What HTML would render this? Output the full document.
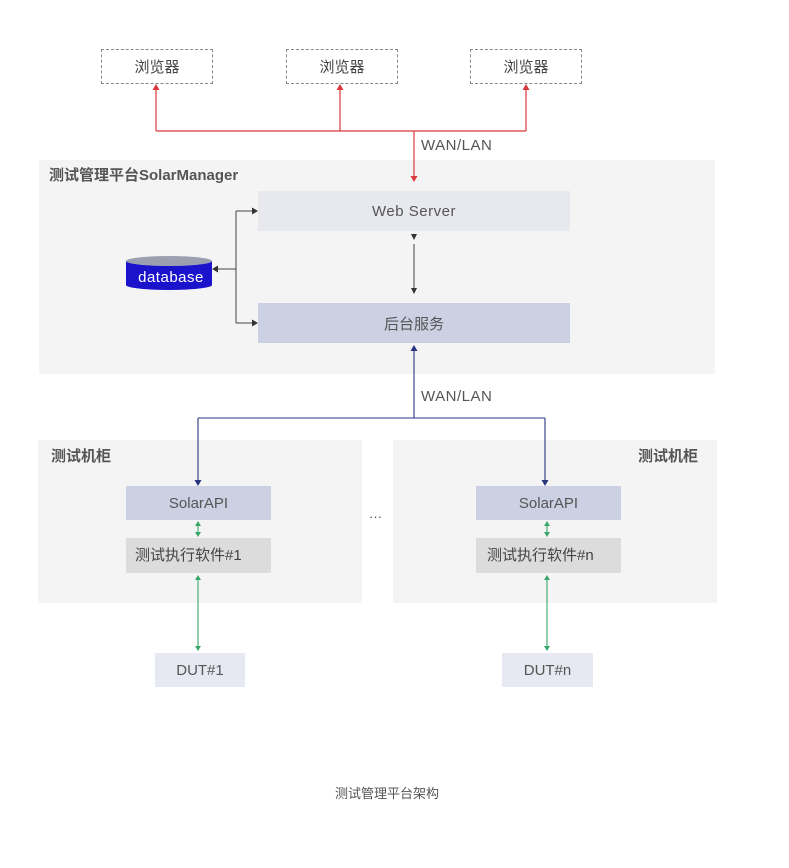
<!DOCTYPE html>
<html><head><meta charset="utf-8"><style>
body{margin:0;width:789px;height:868px;background:#fff;position:relative;font-family:"Liberation Sans","Noto Sans CJK SC",sans-serif;color:#555;overflow:hidden}
.a{position:absolute;box-sizing:border-box}
.c{display:flex;align-items:center;justify-content:center}
.br{border:1px dashed #888;font-size:15px;color:#444}
</style></head><body>
<div class="a c br" style="left:101px;top:49px;width:112px;height:35px">浏览器</div>
<div class="a c br" style="left:286px;top:49px;width:112px;height:35px">浏览器</div>
<div class="a c br" style="left:470px;top:49px;width:112px;height:35px">浏览器</div>

<div class="a" style="left:39px;top:160px;width:676px;height:214px;background:#f4f4f4"></div>
<div class="a" style="left:49px;top:164px;font-size:15px;font-weight:bold;color:#555">测试管理平台SolarManager</div>
<div class="a c" style="left:258px;top:191px;width:312px;height:40px;background:#e8e9ee;font-size:15px;letter-spacing:0.5px">Web Server</div>
<div class="a c" style="left:258px;top:303px;width:312px;height:40px;background:#cbd0e2;font-size:15px">后台服务</div>

<div class="a" style="left:38px;top:440px;width:324px;height:163px;background:#f4f4f4"></div>
<div class="a" style="left:393px;top:440px;width:324px;height:163px;background:#f4f4f4"></div>
<div class="a" style="left:51px;top:445px;font-size:15px;font-weight:bold">测试机柜</div>
<div class="a" style="left:638px;top:445px;font-size:15px;font-weight:bold">测试机柜</div>

<div class="a c" style="left:126px;top:486px;width:145px;height:34px;background:#cbd0e2;font-size:15px">SolarAPI</div>
<div class="a c" style="left:476px;top:486px;width:145px;height:34px;background:#cbd0e2;font-size:15px">SolarAPI</div>
<div class="a" style="left:126px;top:538px;width:145px;height:35px;background:#dcdcdc;font-size:15px;line-height:35px;padding-left:9px;color:#444">测试执行软件#1</div>
<div class="a" style="left:476px;top:538px;width:145px;height:35px;background:#dcdcdc;font-size:15px;line-height:35px;padding-left:11px;color:#444">测试执行软件#n</div>
<div class="a c" style="left:155px;top:653px;width:90px;height:34px;background:#e6e9f2;font-size:15px">DUT#1</div>
<div class="a c" style="left:502px;top:653px;width:91px;height:34px;background:#e6e9f2;font-size:15px">DUT#n</div>
<div class="a" style="left:369px;top:509px;font-size:13px;color:#444">···</div>

<div class="a" style="left:421px;top:137px;font-size:15px;letter-spacing:0.5px">WAN/LAN</div>
<div class="a" style="left:421px;top:388px;font-size:15px;letter-spacing:0.5px">WAN/LAN</div>
<div class="a" style="left:0;top:783px;width:774px;text-align:center;font-size:13px">测试管理平台架构</div>

<svg class="a" style="left:0;top:0" width="789" height="868">
<g stroke="#d9393c" stroke-width="1.2" fill="none">
<path d="M156 131V88M340 131V88M526 131V88M156 131H526M414 131V176"/>
</g>
<g fill="#d9393c">
<path d="M156 84l-3.5 6h7zM340 84l-3.5 6h7zM526 84l-3.5 6h7zM414 182l-3.5-6h7z"/>
</g>
<g stroke="#444" stroke-width="1" fill="none">
<path d="M214 269H236M236 211V323M236 211H254M236 323H254M414 244V290"/>
</g>
<g fill="#333">
<path d="M258 211l-6-3.5v7zM258 323l-6-3.5v7zM212 269l6-3.5v7zM414 240l-3-6h6zM414 294l-3-6h6z"/>
</g>
<ellipse cx="169" cy="261" rx="43" ry="5" fill="#9aa0b0"/>
<path d="M126 261V285A43 5 0 0 0 212 285V261A43 5 0 0 1 126 261Z" fill="#1b12cc"/>
<text x="171" y="282" font-size="15" fill="#fff" text-anchor="middle" font-family="Liberation Sans,sans-serif" letter-spacing="0.5">database</text>
<g stroke="#2a3580" stroke-width="1.1" fill="none">
<path d="M414 350V418M198 418H545M198 418V480M545 418V480"/>
</g>
<g fill="#2a3580">
<path d="M414 345l-3.5 6h7zM198 486l-3.5-6h7zM545 486l-3.5-6h7z"/>
</g>
<g stroke="#3aa86a" stroke-width="1.1" fill="none">
<path d="M198 526V532M547 526V532M198 580V646M547 580V646"/>
</g>
<g fill="#3aa86a">
<path d="M198 521l-3 5h6zM198 537l-3-5h6zM547 521l-3 5h6zM547 537l-3-5h6zM198 575l-3 5h6zM198 651l-3-5h6zM547 575l-3 5h6zM547 651l-3-5h6z"/>
</g>
</svg>
</body></html>
